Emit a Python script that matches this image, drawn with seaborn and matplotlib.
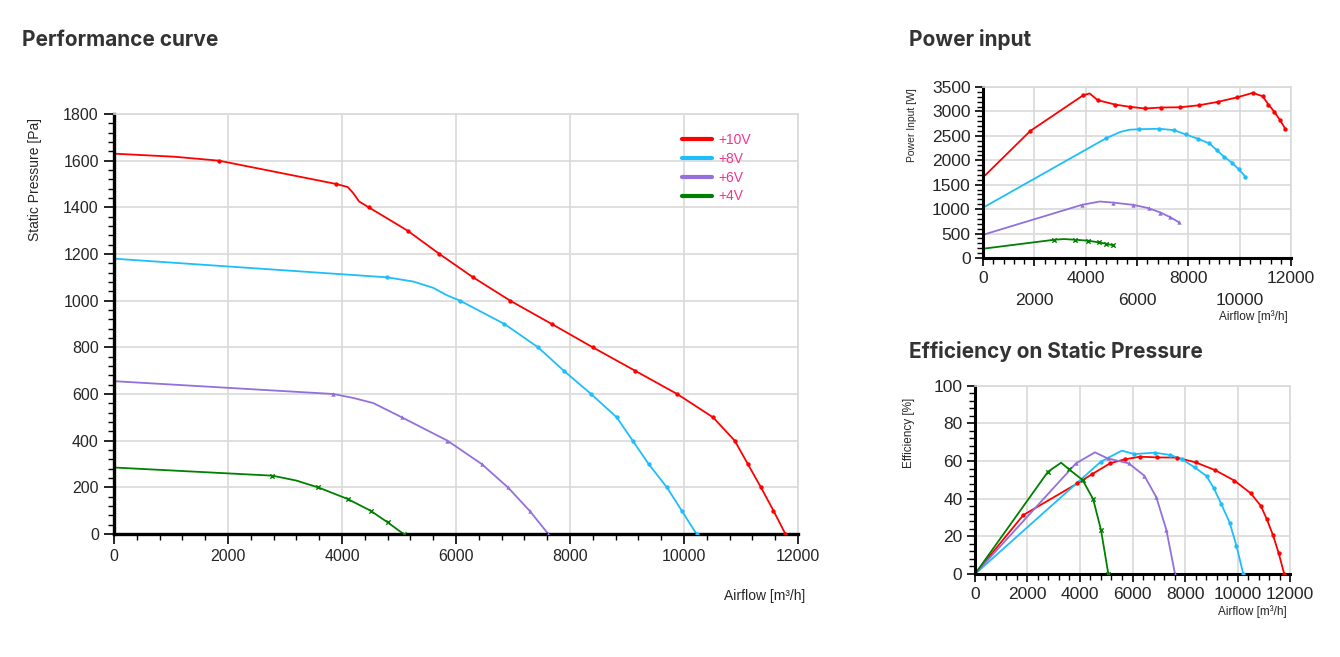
import numpy as np
import pandas as pd
import matplotlib
matplotlib.use('Agg')
import matplotlib.pyplot as plt
from matplotlib.ticker import MultipleLocator
from matplotlib.lines import Line2D
import seaborn as sns

#------------------------------DATA------------------------------
voltages = ['+10V', '+8V', '+6V', '+4V']
colors = ['#ff0000', '#1ebefa', '#9370db', '#008000']
markers = ['o', 'o', '^', 'x']

# airflow of the marked operating points [m3/h]
q10 = [1840, 3900, 4470, 5150, 5710, 6300, 6950, 7680, 8400, 9140, 9880, 10510, 10890, 11120, 11350, 11570, 11780]
q8 = [4790, 6070, 6850, 7440, 7890, 8370, 8820, 9100, 9380, 9700, 9960, 10220]
q6 = [3850, 5050, 5850, 6450, 6910, 7290, 7620]
q4 = [2780, 3580, 4100, 4500, 4800, 5080]

# static pressure at those points [Pa]
p10 = [1600, 1500, 1400, 1300, 1200, 1100, 1000, 900, 800, 700, 600, 500, 400, 300, 200, 100, 0]
p8 = [1100, 1000, 900, 800, 700, 600, 500, 400, 300, 200, 100, 0]
p6 = [600, 500, 400, 300, 200, 100, 0]
p4 = [250, 200, 150, 100, 50, 0]

# power input at those points [W]
w10 = [2600, 3330, 3230, 3140, 3095, 3060, 3080, 3085, 3125, 3195, 3285, 3380, 3310, 3140, 2990, 2820, 2640]
w8 = [2450, 2635, 2645, 2617, 2530, 2440, 2345, 2210, 2075, 1950, 1815, 1665]
w6 = [1088, 1135, 1088, 1020, 931, 836, 734]
w4 = [374, 374, 354, 320, 292, 258]

# efficiency at those points [%]
e10 = [31.3, 48.1, 53.1, 58.8, 60.9, 62.3, 61.9, 61.8, 59.3, 55.2, 49.6, 42.8, 36.1, 29.0, 20.7, 11.0, 0]
e8 = [59.6, 63.7, 64.4, 63.2, 60.9, 56.6, 52.0, 45.5, 37.2, 27.3, 15.0, 0]
e6 = [58.8, 61.4, 58.8, 52.2, 40.7, 23.4, 0]
e4 = [54.3, 55.6, 49.9, 39.8, 23.4, 0]

# values at zero airflow
p_zero = [1630, 1180, 655, 285]
w_zero = [1650, 1030, 475, 190]
e_zero = [0, 0, 0, 0]

# unmarked points (airflow, value)
p_bend = [([1050, 4100, 4190, 4300], [1617, 1487, 1463, 1425]),
          ([5250, 5600, 5850], [1082, 1055, 1022]),
          ([4200, 4550], [583, 561]),
          ([3200, 3420], [229, 212])]
w_bend = [([4150], [3368]),
          ([5350, 5700], [2580, 2625]),
          ([4550], [1156]),
          ([3150], [388])]
e_bend = [([], []),
          ([5590], [65.5]),
          ([4570], [64.6]),
          ([3280], [59.1])]

q_all = [q10, q8, q6, q4]
#------------------------------------------------------------------------------------------


def curve(q, vals, zero, bend):
    pts = pd.DataFrame({'airflow': [0] + list(bend[0]) + list(q),
                        'value': [zero] + list(bend[1]) + list(vals),
                        'marked': [False] * (1 + len(bend[0])) + [True] * len(q)})
    return pts.sort_values('airflow').reset_index(drop=True)


def draw(ax, series, zeros, bends):
    for i in range(4):
        df = curve(q_all[i], series[i], zeros[i], bends[i])
        sns.lineplot(data=df, x='airflow', y='value', color=colors[i], lw=1.3,
                     ax=ax, estimator=None, sort=True)
        m = df[df['marked']]
        if markers[i] == 'x':
            sns.scatterplot(data=m, x='airflow', y='value', color=colors[i], marker='x',
                            s=10, linewidth=1.0, ax=ax, zorder=5)
        else:
            sns.scatterplot(data=m, x='airflow', y='value', color=colors[i], marker=markers[i],
                            s=10, linewidth=0, ax=ax, zorder=5)


def style(ax, xmax, ymax, ymaj, ymin, xmin_step, spine_w, labelsize):
    ax.set_xlim(0, xmax)
    ax.set_ylim(0, ymax)
    ax.xaxis.set_major_locator(MultipleLocator(2000))
    ax.xaxis.set_minor_locator(MultipleLocator(xmin_step))
    ax.yaxis.set_major_locator(MultipleLocator(ymaj))
    ax.yaxis.set_minor_locator(MultipleLocator(ymin))
    ax.grid(True, which='major', color='#d9d9d9', lw=1.2)
    ax.set_axisbelow(True)
    for s in ['left', 'bottom']:
        ax.spines[s].set_linewidth(spine_w)
        ax.spines[s].set_color('black')
    for s in ['top', 'right']:
        ax.spines[s].set_linewidth(1.2)
        ax.spines[s].set_color('#d9d9d9')
    ax.tick_params(which='major', length=6, width=1.2, color='black', labelsize=labelsize,
                   pad=3, bottom=True, left=True)
    ax.tick_params(which='minor', length=4, width=1.0, color='black', bottom=True, left=True)
    ax.set_xlabel('')
    ax.set_ylabel('')


sns.set_style('white')
plt.rcParams['font.family'] = ['Liberation Sans', 'DejaVu Sans']

fig = plt.figure(figsize=(13.4, 6.57), dpi=100)

#------------------------------PERFORMANCE CURVE------------------------------
ax1 = fig.add_axes([0.0851, 0.1872, 0.5104, 0.6393])
draw(ax1, [p10, p8, p6, p4], p_zero, p_bend)
style(ax1, 12000, 1800, 200, 40, 400, 2.4, 11.5)
ax1.tick_params(which='major', length=7, pad=4)
ax1.set_ylabel('Static Pressure [Pa]', fontsize=10)
ax1.yaxis.set_label_coords(-0.106, 0.843)
ax1.text(1.01, -0.148, 'Airflow [m³/h]', transform=ax1.transAxes, ha='right', va='center',
         fontsize=10)
handles = [Line2D([], [], color=c, lw=3) for c in colors]
ax1.legend(handles, voltages, loc='upper left', bbox_to_anchor=(0.83, 0.955), frameon=False,
           fontsize=10, labelcolor='#f5358e', handlelength=2.2, handletextpad=0.45,
           labelspacing=0.35, borderpad=0, borderaxespad=0)

#------------------------------POWER INPUT------------------------------
ax2 = fig.add_axes([0.7336, 0.6073, 0.2299, 0.2603])
draw(ax2, [w10, w8, w6, w4], w_zero, w_bend)
style(ax2, 12000, 3500, 500, 100, 400, 2.2, 12.5)
# every other airflow label sits on a second row
for t, loc in zip(ax2.xaxis.get_major_ticks(), ax2.xaxis.get_majorticklocs()):
    if round(loc) % 4000 == 2000:
        t.set_pad(19)
ax2.set_ylabel('Power Input [W]', fontsize=7.5)
ax2.yaxis.set_label_coords(-0.215, 0.78)
ax2.text(0.99, -0.34, 'Airflow [m³/h]', transform=ax2.transAxes, ha='right', va='center',
         fontsize=8.5)

#------------------------------EFFICIENCY------------------------------
ax3 = fig.add_axes([0.7276, 0.1263, 0.2351, 0.2867])
draw(ax3, [e10, e8, e6, e4], e_zero, e_bend)
style(ax3, 12000, 100, 20, 4, 400, 2.2, 12.5)
ax3.set_ylabel('Efficiency [%]', fontsize=8.5)
ax3.yaxis.set_label_coords(-0.19, 0.75)
ax3.text(0.99, -0.2, 'Airflow [m³/h]', transform=ax3.transAxes, ha='right', va='center',
         fontsize=8.5)

#------------------------------TITLES------------------------------
for txt, x, y in [('Performance curve', 22, 40), ('Power input', 909, 40),
                  ('Efficiency on Static Pressure', 909, 351)]:
    fig.text(x / 1340, 1 - y / 657, txt, fontsize=15, fontweight='bold', color='#333333',
             family=['Inter', 'DejaVu Sans'], ha='left', va='center')

fig.savefig('out.png', dpi=100, facecolor='white')
